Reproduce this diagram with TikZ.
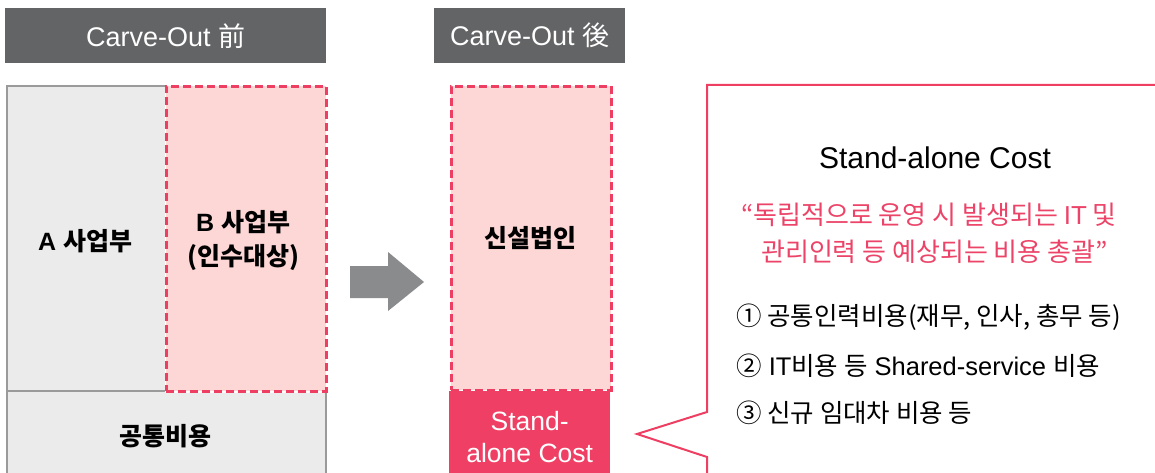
\documentclass[tikz,border=0pt]{standalone}
\usepackage{fontspec}
\setmainfont{Liberation Sans}
\newfontfamily\kr{Noto Sans CJK KR}
\definecolor{hdr}{HTML}{636466}
\definecolor{lgray}{HTML}{EBEBEB}
\definecolor{bgray}{HTML}{9A9A9A}
\definecolor{pinkf}{HTML}{FCD7D5}
\definecolor{redl}{HTML}{EE3F63}
\definecolor{redf}{HTML}{F03F64}
\definecolor{arrowg}{HTML}{8A8B8D}
\definecolor{redt}{HTML}{EC4468}
\begin{document}
\begin{tikzpicture}[x=1pt,y=-1pt,
  hdrbox/.style={fill=hdr, text=white, anchor=north west, inner sep=0pt, font=\fontsize{27}{32}\selectfont},
  graybox/.style={fill=lgray, draw=bgray, line width=2pt, anchor=north west, inner sep=0pt},
  pinkbox/.style={fill=pinkf, draw=redl, line width=2.6pt, dash pattern=on 8pt off 4pt,
     preaction={draw=white, solid}, anchor=north west, inner sep=0pt},
  redbox/.style={fill=redf, anchor=north west, inner sep=0pt, text=white, align=center,
     font=\fontsize{26.5}{32}\selectfont},
  boldlbl/.style={inner sep=0pt, align=center, font=\fontsize{25}{34}\selectfont\bfseries},
  titlelbl/.style={inner sep=0pt, font=\fontsize{30}{36}\selectfont},
  quotelbl/.style={inner sep=0pt, anchor=west, text=redt, font=\fontsize{26}{30}\selectfont},
  itemlbl/.style={inner sep=0pt, anchor=west, font=\fontsize{25.5}{30}\selectfont},
  callout/.style={draw=redl, line width=2pt, fill=white}
]
\useasboundingbox (0,0) rectangle (1155,473);
\clip (0,0) rectangle (1155,473);
% headers
\node[hdrbox, minimum width=321pt, minimum height=55pt] (h1) at (5,8) {Carve-Out {\kr 前}};
\node[hdrbox, minimum width=191pt, minimum height=55pt] (h2) at (434,8) {Carve-Out {\kr 後}};
% before
\node[graybox, minimum width=319pt, minimum height=100pt] (common) at (6,390) {};
\node[graybox, minimum width=159pt, minimum height=305pt] (abox) at (6,85) {};
\node[pinkbox, minimum width=160pt, minimum height=305pt] (bbox) at (165,85) {};
\node[boldlbl] (alabel) at (85,241) {A {\kr\bfseries 사업부}};
\node[boldlbl] (blabel) at (243,241) {B {\kr\bfseries 사업부}\\{\kr\bfseries (인수대상)}};
\node[boldlbl] (clabel) at (165,436) {\kr\bfseries 공통비용};
% arrow
\fill[arrowg] (350,266) -- (388,266) -- (388,252) -- (424,282) -- (388,311) -- (388,298) -- (350,298) -- cycle;
% after
\node[pinkbox, minimum width=160pt, minimum height=304pt] (nbox) at (450,85) {};
\node[boldlbl] (nlabel) at (530,238) {\kr\bfseries 신설법인};
\node[redbox, minimum width=161pt, minimum height=92pt] (sbox) at (449,391) {Stand-\\alone Cost};
% callout
\draw[callout] (1170,85) -- (707,85) -- (707,412) -- (637,434) -- (707,457) -- (707,490);
\node[titlelbl] (title) at (935,158) {Stand-alone Cost};
\node[quotelbl] (q1) at (741,215) {\kr “독립적으로 운영 시 발생되는 \fontspec{Liberation Sans}IT\kr{} 및};
\node[quotelbl] (q2) at (761,252) {\kr 관리인력 등 예상되는 비용 총괄”};
\node[itemlbl] (i1) at (736,317) {\kr ① 공통인력비용(재무, 인사, 총무 등)};
\node[itemlbl] (i2) at (736,366) {{\kr ②} IT{\kr 비용 등} Shared-service {\kr 비용}};
\node[itemlbl] (i3) at (736,413) {\kr ③ 신규 임대차 비용 등};
\end{tikzpicture}
\end{document}
